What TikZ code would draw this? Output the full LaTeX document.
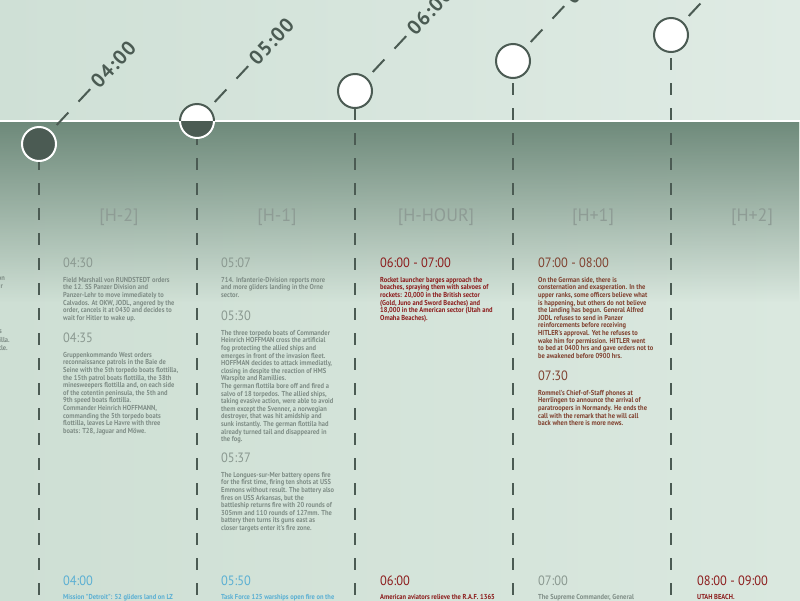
\documentclass[tikz,border=0pt]{standalone}
\usepackage{fontspec}
\setmainfont{PT Sans}
\newfontfamily\bodyfont[FakeStretch=0.9]{PT Sans}
\newfontfamily\headfont[FakeStretch=0.92]{PT Sans}
\newfontfamily\diagfont[LetterSpace=6]{PT Sans}
\usetikzlibrary{calc,fadings}
\definecolor{bgL}{HTML}{CFE0D6}
\definecolor{bgR}{HTML}{DFEBE4}
\definecolor{lowL}{HTML}{CEDFD4}
\definecolor{lowR}{HTML}{DAE8DF}
\definecolor{band}{HTML}{617E6E}
\definecolor{dk}{HTML}{4B5B53}
\definecolor{gtx}{HTML}{7F8D86}
\definecolor{ghd}{HTML}{8A9890}
\definecolor{hdr}{HTML}{8E9C95}
\definecolor{blu}{HTML}{5AAFD3}
\definecolor{rd}{HTML}{8C1C1C}
\definecolor{brn}{HTML}{80412F}
\tikzfading[name=bandfade, top color=transparent!0, middle color=transparent!62, bottom color=transparent!100]
\begin{document}
\begin{tikzpicture}[x=1pt,y=-1pt,
  circ/.style={circle, minimum size=34pt, inner sep=0pt, line width=2pt},
  vline/.style={dk, line width=2pt, dash pattern=on 12pt off 13pt},
  dline/.style={dk, line width=2pt},
  diaglabel/.style={text=dk, font=\diagfont\bfseries\fontsize{20}{20}\selectfont, rotate=47, anchor=west, inner sep=0pt},
  colhead/.style={text=hdr, inner sep=0pt, font=\fontsize{18}{18}\selectfont},
  timehead/.style={anchor=west, inner sep=0pt, font=\headfont\fontsize{13.5}{13.5}\selectfont},
  para/.style={anchor=north west, inner sep=0pt, align=left, font=\bodyfont\bfseries\fontsize{7.2}{7.6}\selectfont},
  frag/.style={anchor=north east, inner sep=0pt, text=gtx, font=\bodyfont\bfseries\fontsize{7.2}{7.6}\selectfont}
]
\clip (0,0) rectangle (800,600);
% backgrounds
\shade[left color=lowL, right color=lowR] (0,121) rectangle (800,600);
\fill[band, path fading=bandfade] (0,98) rectangle (800,302);
\shade[left color=bgL, right color=bgR] (0,0) rectangle (800,121);
\draw[white, line width=2.5pt] (0,121) -- (800,121);

% timeline circles
\node[circ, fill=dk, draw=white] (t1) at (39,144) {};
\node[circ, fill=white, draw=dk] (t2) at (197,121) {};
\begin{scope}
  \clip (170,121) rectangle (230,150);
  \draw[fill=dk, draw=white, line width=2pt] (t2.center) circle (17pt);
\end{scope}
\node[circ, fill=white, draw=dk] (t3) at (355,91) {};
\node[circ, fill=white, draw=dk] (t4) at (513,61) {};
\node[circ, fill=white, draw=dk] (t5) at (671,35) {};

\coordinate (b1) at (39,600);
\coordinate (b2) at (197,600);
\coordinate (b3) at (355,600);
\coordinate (b4) at (513,600);
\coordinate (b5) at (671,600);
\draw[vline, dash phase=4pt] (t1.south) -- (b1);
\draw[vline, dash phase=6pt] (t2.south) -- (b2);
\draw[vline, dash phase=1pt] (t3.south) -- (b3);
\draw[vline, dash phase=21pt] (t4.south) -- (b4);
\draw[vline, dash phase=20pt] (t5.south) -- (b5);

% diagonal dashes and hour labels
\foreach \n in {t1,t2,t3,t4,t5} {
  \draw[dline] ($(\n.center)+(-47:26)$) -- ($(\n.center)+(-47:43)$);
  \draw[dline] ($(\n.center)+(-47:58)$) -- ($(\n.center)+(-47:75)$);
}
\node[diaglabel] (l1) at ($(t1.center)+(-47:81)$) {04:00};
\node[diaglabel] (l2) at ($(t2.center)+(-47:81)$) {05:00};
\node[diaglabel] (l3) at ($(t3.center)+(-47:81)$) {06:00};
\node[diaglabel] (l4) at ($(t4.center)+(-47:82)$) {07:00};

% column headers
\node[colhead] (h1) at (119,217) {[H-2]};
\node[colhead] (h2) at (277,217) {[H-1]};
\node[colhead] (h3) at (436,217) {[H-HOUR]};
\node[colhead] (h4) at (593,217) {[H+1]};
\node[colhead] (h5) at (752,217) {[H+2]};

% fragments of previous column
\node[frag] (f1) at (5,277) {on};
\node[frag] (f2) at (3,285) {r};
\node[frag] (f3) at (2,330) {s};
\node[frag] (f4) at (10,337) {tilla.};
\node[frag] (f5) at (8,345) {ttle.};

% column 1
\node[timehead, text=ghd] (a1) at (63,263) {04:30};
\node[para, text=gtx] (a2) at (63,277) {Field Marshall von RUNDSTEDT orders\\
the 12. SS Panzer Division and\\
Panzer-Lehr to move immediately to\\
Calvados. At OKW, JODL, angered by the\\
order, cancels it at 0430 and decides to\\
wait for Hitler to wake up.};
\node[timehead, text=ghd] (a3) at (63,338) {04:35};
\node[para, text=gtx] (a4) at (63,352) {Gruppenkommando West orders\\
reconnaissance patrols in the Baie de\\
Seine with the 5th torpedo boats flottilla,\\
the 15th patrol boats flottilla, the 38th\\
minesweepers flottilla and, on each side\\
of the cotentin peninsula, the 5th and\\
9th speed boats flottilla.\\
Commander Heinrich HOFFMANN,\\
commanding the 5th torpedo boats\\
flottilla, leaves Le Havre with three\\
boats: T28, Jaguar and Möwe.};
\node[timehead, text=blu] (a5) at (63,581) {04:00};
\node[para, text=blu] (a6) at (63,594) {Mission "Detroit": 52 gliders land on LZ};

% column 2
\node[timehead, text=ghd] (c1) at (221,263) {05:07};
\node[para, text=gtx] (c2) at (221,277) {714. Infanterie-Division reports more\\
and more gliders landing in the Orne\\
sector.};
\node[timehead, text=ghd] (c3) at (221,316) {05:30};
\node[para, text=gtx] (c4) at (221,330) {The three torpedo boats of Commander\\
Heinrich HOFFMAN cross the artificial\\
fog protecting the allied ships and\\
emerges in front of the invasion fleet.\\
HOFFMAN decides to attack immediatly,\\
closing in despite the reaction of HMS\\
Warspite and Ramillies.\\
The german flottila bore off and fired a\\
salvo of 18 torpedos. The allied ships,\\
taking evasive action, were able to avoid\\
them except the Svenner, a norwegian\\
destroyer, that was hit amidship and\\
sunk instantly. The german flottila had\\
already turned tail and disappeared in\\
the fog.};
\node[timehead, text=ghd] (c5) at (221,458) {05:37};
\node[para, text=gtx] (c6) at (221,472) {The Longues-sur-Mer battery opens fire\\
for the first time, firing ten shots at USS\\
Emmons without result. The battery also\\
fires on USS Arkansas, but the\\
battleship returns fire with 20 rounds of\\
305mm and 110 rounds of 127mm. The\\
battery then turns its guns east as\\
closer targets enter it's fire zone.};
\node[timehead, text=blu] (c7) at (221,581) {05:50};
\node[para, text=blu] (c8) at (221,594) {Task Force 125 warships open fire on the};

% column 3
\node[timehead, text=rd] (d1) at (380,263) {06:00 - 07:00};
\node[para, text=rd] (d2) at (380,277) {Rocket launcher barges approach the\\
beaches, spraying them with salvoes of\\
rockets: 20,000 in the British sector\\
(Gold, Juno and Sword Beaches) and\\
18,000 in the American sector (Utah and\\
Omaha Beaches).};
\node[timehead, text=rd] (d3) at (380,581) {06:00};
\node[para, text=rd] (d4) at (380,594) {American aviators relieve the R.A.F. 1365};

% column 4
\node[timehead, text=brn] (e1) at (538,263) {07:00 - 08:00};
\node[para, text=brn] (e2) at (538,277) {On the German side, there is\\
consternation and exasperation. In the\\
upper ranks, some officers believe what\\
is happening, but others do not believe\\
the landing has begun. General Alfred\\
JODL refuses to send in Panzer\\
reinforcements before receiving\\
HITLER's approval. Yet he refuses to\\
wake him for permission. HITLER went\\
to bed at 0400 hrs and gave orders not to\\
be awakened before 0900 hrs.};
\node[timehead, text=brn] (e3) at (538,376) {07:30};
\node[para, text=brn] (e4) at (538,390) {Rommel's Chief-of-Staff phones at\\
Herrlingen to announce the arrival of\\
paratroopers in Normandy. He ends the\\
call with the remark that he will call\\
back when there is more news.};
\node[timehead, text=ghd] (e5) at (538,581) {07:00};
\node[para, text=gtx] (e6) at (538,594) {The Supreme Commander, General};

% column 5
\node[timehead, text=rd] (g1) at (697,581) {08:00 - 09:00};
\node[para, text=rd] (g2) at (697,594) {UTAH BEACH.};
\end{tikzpicture}
\end{document}
